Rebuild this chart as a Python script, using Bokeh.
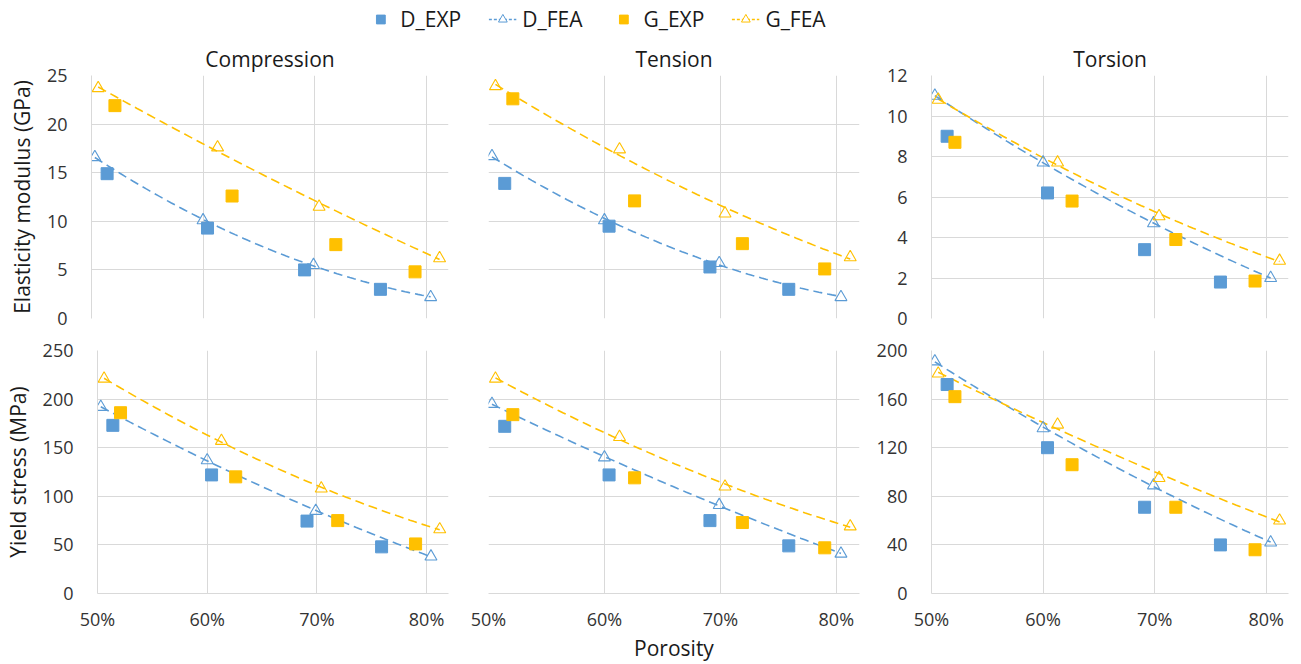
import numpy as np
from bokeh.plotting import figure
from bokeh.layouts import column, row
from bokeh.models import Range1d, FixedTicker, NumeralTickFormatter, Legend, LegendItem
from bokeh.embed import file_html
from bokeh.resources import INLINE

# ---------------- data ----------------
D_EXP_X = [0.514, 0.604, 0.691, 0.759]
D_FEA_X = [0.503, 0.600, 0.699, 0.804]
G_EXP_X = [0.521, 0.626, 0.719, 0.790]
G_FEA_X = [0.506, 0.613, 0.704, 0.812]

# Elasticity modulus (GPa)
COMP_E_D_EXP = [14.9, 9.3, 5.0, 3.0]
COMP_E_D_FEA = [16.6, 10.1, 5.5, 2.2]
COMP_E_G_EXP = [21.9, 12.6, 7.6, 4.8]
COMP_E_G_FEA = [23.7, 17.6, 11.5, 6.2]

TENS_E_D_EXP = [13.9, 9.5, 5.3, 3.0]
TENS_E_D_FEA = [16.7, 10.1, 5.7, 2.2]
TENS_E_G_EXP = [22.6, 12.1, 7.7, 5.1]
TENS_E_G_FEA = [23.9, 17.4, 10.8, 6.3]

TORS_E_D_EXP = [9.0, 6.2, 3.4, 1.8]
TORS_E_D_FEA = [11.0, 7.7, 4.7, 2.0]
TORS_E_G_EXP = [8.7, 5.8, 3.9, 1.85]
TORS_E_G_FEA = [10.8, 7.7, 5.05, 2.85]

# Yield stress (MPa)
COMP_Y_D_EXP = [173, 122, 74.5, 48]
COMP_Y_D_FEA = [192, 137, 85, 38]
COMP_Y_G_EXP = [186, 120, 75, 51]
COMP_Y_G_FEA = [221, 157, 108, 66]

TENS_Y_D_EXP = [172, 122, 75, 49]
TENS_Y_D_FEA = [195, 140, 91, 41]
TENS_Y_G_EXP = [184, 119, 73, 47]
TENS_Y_G_FEA = [221, 161, 110, 69]

TORS_Y_D_EXP = [172, 120, 71, 40]
TORS_Y_D_FEA = [191, 136, 89, 42]
TORS_Y_G_EXP = [162, 106, 71, 36]
TORS_Y_G_FEA = [181, 139, 95, 60]

X_TICKS = [0.5, 0.6, 0.7, 0.8]
TITLES = ["Compression", "Tension", "Torsion"]
Y_LABELS = ["Elasticity modulus (GPa)", "Yield stress (MPa)"]
X_LABEL = "Porosity"
LEGEND_LABELS = ["D_EXP", "D_FEA", "G_EXP", "G_FEA"]

# ---------------- style ----------------
BLUE = "#5B9BD5"
GOLD = "#FFC000"
GRID = "#D9D9D9"
TXT = "#1a1a1a"
FONT = "Open Sans"
DASH = "9 5"


def trend(xs, ys):
    xs = np.asarray(xs, float)
    ys = np.asarray(ys, float)
    c = np.polyfit(xs, ys, 2)
    xx = np.linspace(xs.min(), xs.max(), 80)
    return xx, np.polyval(c, xx)


def panel(series, ymax, ystep, width, height, left, right, top, bottom,
          title=None, show_x=False, show_y=True, ylabel=None, xlabel=None):
    p = figure(width=width, height=height, x_range=Range1d(0.5, 0.82),
               y_range=Range1d(0, ymax), toolbar_location=None,
               output_backend="svg", min_border_left=left, min_border_right=right,
               min_border_top=top, min_border_bottom=bottom)
    p.outline_line_color = None
    p.background_fill_color = "white"
    yt = list(np.arange(0, ymax + 0.001, ystep))
    p.xaxis.ticker = FixedTicker(ticks=X_TICKS)
    p.yaxis.ticker = FixedTicker(ticks=yt)
    p.xgrid.ticker = FixedTicker(ticks=X_TICKS)
    p.ygrid.ticker = FixedTicker(ticks=yt)
    p.grid.grid_line_color = GRID
    p.grid.grid_line_width = 1
    p.xaxis.formatter = NumeralTickFormatter(format="0%")
    for ax in p.axis:
        ax.axis_line_color = GRID
        ax.major_tick_line_color = None
        ax.minor_tick_line_color = None
        ax.major_label_text_font = FONT
        ax.major_label_text_font_size = "18px"
        ax.major_label_text_color = "#333333"
        ax.axis_label_text_font = FONT
        ax.axis_label_text_font_style = "normal"
        ax.axis_label_text_color = TXT
    p.yaxis.major_label_standoff = 18
    p.xaxis.major_label_standoff = 7
    if not show_x:
        p.xaxis.visible = False
    if not show_y:
        p.yaxis.visible = False
    if ylabel:
        p.yaxis.axis_label = ylabel
        p.yaxis.axis_label_text_font_size = "21px"
        p.yaxis.axis_label_standoff = 8
    if xlabel:
        p.xaxis.axis_label = xlabel
        p.xaxis.axis_label_text_font_size = "21px"
        p.xaxis.axis_label_standoff = 0
    if title:
        p.title.text = title
        p.title.align = "center"
        p.title.text_font = FONT
        p.title.text_font_size = "21px"
        p.title.text_font_style = "normal"
        p.title.text_color = TXT
        p.title.standoff = 6

    dexp, dfea, gexp, gfea = series
    # trend lines through FEA results
    xx, yy = trend(D_FEA_X, dfea)
    p.line(xx, yy, line_color=BLUE, line_dash=DASH, line_width=1.6)
    xx, yy = trend(G_FEA_X, gfea)
    p.line(xx, yy, line_color=GOLD, line_dash=DASH, line_width=1.6)
    p.scatter(D_FEA_X, dfea, marker="triangle", size=12, line_color=BLUE,
              fill_color=None, line_width=1.1)
    p.scatter(G_FEA_X, gfea, marker="triangle", size=12, line_color=GOLD,
              fill_color=None, line_width=1.1)
    p.scatter(D_EXP_X, dexp, marker="square", size=12, line_color=BLUE,
              fill_color=BLUE)
    p.scatter(G_EXP_X, gexp, marker="square", size=12, line_color=GOLD,
              fill_color=GOLD)
    return p


LEG_H = 38
TOP_H, BOT_H = 37 + 243 + 16, 16 + 243 + 71
W = [468, 401, 427]
L = [91, 20, 62]
R = [20, 10, 8]

top_series = [
    (COMP_E_D_EXP, COMP_E_D_FEA, COMP_E_G_EXP, COMP_E_G_FEA, 25, 5),
    (TENS_E_D_EXP, TENS_E_D_FEA, TENS_E_G_EXP, TENS_E_G_FEA, 25, 5),
    (TORS_E_D_EXP, TORS_E_D_FEA, TORS_E_G_EXP, TORS_E_G_FEA, 12, 2),
]
bot_series = [
    (COMP_Y_D_EXP, COMP_Y_D_FEA, COMP_Y_G_EXP, COMP_Y_G_FEA, 250, 50),
    (TENS_Y_D_EXP, TENS_Y_D_FEA, TENS_Y_G_EXP, TENS_Y_G_FEA, 250, 50),
    (TORS_Y_D_EXP, TORS_Y_D_FEA, TORS_Y_G_EXP, TORS_Y_G_FEA, 200, 40),
]

top_figs = []
bot_figs = []
for i in range(3):
    s = top_series[i]
    top_figs.append(panel(s[:4], s[4], s[5], W[i], TOP_H, L[i], R[i], 37, 16,
                          title=TITLES[i], show_x=False, show_y=(i != 1),
                          ylabel=Y_LABELS[0] if i == 0 else None))
    s = bot_series[i]
    bot_figs.append(panel(s[:4], s[4], s[5], W[i], BOT_H, L[i], R[i], 16, 71,
                          show_x=True, show_y=(i != 1),
                          ylabel=Y_LABELS[1] if i == 0 else None,
                          xlabel=X_LABEL if i == 1 else None))

# ---------------- legend ----------------
lf = figure(width=1192, height=LEG_H, x_range=Range1d(0, 1), y_range=Range1d(0, 1),
            toolbar_location=None, output_backend="svg", min_border=0)
lf.axis.visible = False
lf.grid.visible = False
lf.outline_line_color = None
OFF = [9.0]  # legend-only dummy renderers, placed outside the visible range
r_dexp = lf.scatter(x=OFF, y=OFF, marker="square", size=10, line_color=BLUE, fill_color=BLUE)
r_dfl = lf.line(x=OFF, y=OFF, line_color=BLUE, line_dash="3 2", line_width=1.6)
r_dft = lf.scatter(x=OFF, y=OFF, marker="triangle", size=12, line_color=BLUE, fill_color="white")
r_gexp = lf.scatter(x=OFF, y=OFF, marker="square", size=10, line_color=GOLD, fill_color=GOLD)
r_gfl = lf.line(x=OFF, y=OFF, line_color=GOLD, line_dash="3 2", line_width=1.6)
r_gft = lf.scatter(x=OFF, y=OFF, marker="triangle", size=12, line_color=GOLD, fill_color="white")
legend = Legend(items=[
    LegendItem(label=LEGEND_LABELS[0], renderers=[r_dexp]),
    LegendItem(label=LEGEND_LABELS[1], renderers=[r_dfl, r_dft]),
    LegendItem(label=LEGEND_LABELS[2], renderers=[r_gexp]),
    LegendItem(label=LEGEND_LABELS[3], renderers=[r_gfl, r_gft]),
], orientation="horizontal", location="center", label_text_font=FONT,
    label_text_font_size="21px", label_text_color=TXT, glyph_width=28,
    glyph_height=22, label_standoff=6, spacing=27, padding=0, margin=0,
    border_line_color=None, background_fill_alpha=0)
lf.add_layout(legend)

layout = column(lf, row(*top_figs), row(*bot_figs))
open("out.html", "w").write(file_html(layout, INLINE))
